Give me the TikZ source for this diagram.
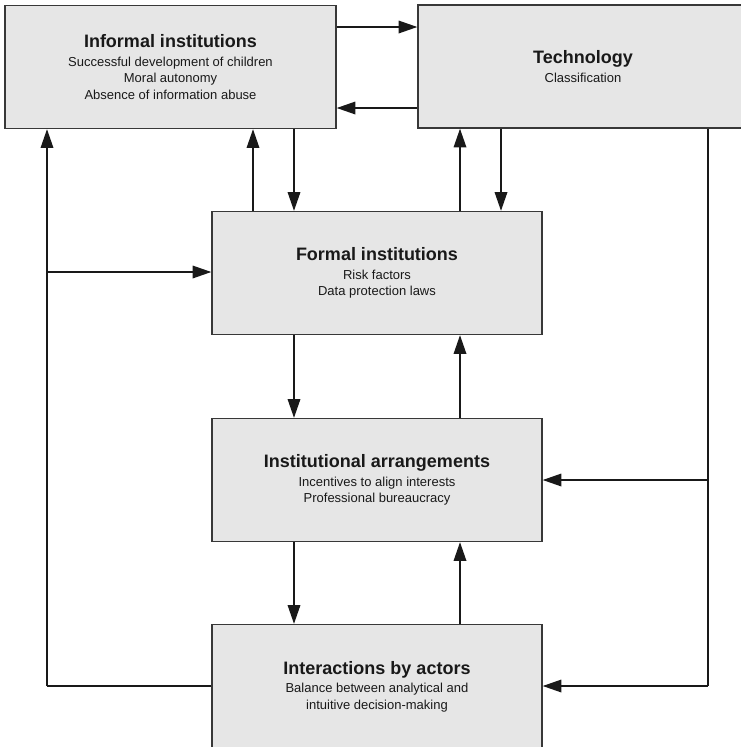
\documentclass[tikz,border=0pt]{standalone}
\usepackage{fontspec}
\setmainfont{Liberation Sans}
\usetikzlibrary{arrows.meta}
\newcommand{\headfont}{\fontsize{13.5pt}{15pt}\selectfont\bfseries}
\newcommand{\itemfont}{\fontsize{9.75pt}{12.4pt}\selectfont}
\definecolor{boxfill}{HTML}{E6E6E6}
\definecolor{boxline}{HTML}{383838}
\tikzset{
  block/.style={draw=boxline, line width=1.1pt, fill=boxfill, rectangle,
    minimum width=330\unitpx, minimum height=123\unitpx, inner sep=0pt,
    align=center, font=\itemfont, text=black!90},
  link/.style={draw=black!90, line width=0.9pt,
    -{Triangle[length=14pt,width=9.5pt]}},
  wire/.style={draw=black!90, line width=0.9pt},
}
\newlength{\unitpx}
\setlength{\unitpx}{0.75pt}
\begin{document}
\begin{tikzpicture}[x=0.75pt, y=-0.75pt]
\useasboundingbox (0,0) rectangle (741,747);

% boxes
\node[block, minimum width=331\unitpx] (inf) at (170.5,67)
  {{\headfont Informal institutions}\\[1.5pt]Successful development of children\\Moral autonomy\\Absence of information abuse};
\node[block] (tech) at (583,66.5)
  {{\headfont Technology}\\[1.5pt]Classification};
\node[block] (form) at (377,273)
  {{\headfont Formal institutions}\\[1.5pt]Risk factors\\Data protection laws};
\node[block] (arr) at (377,480)
  {{\headfont Institutional arrangements}\\[1.5pt]Incentives to align interests\\Professional bureaucracy};
\node[block, minimum height=124\unitpx] (act) at (377,686.5)
  {{\headfont Interactions by actors}\\[1.5pt]Balance between analytical and\\intuitive decision-making};

% columns and rows used by the connectors
\coordinate (cL) at (47,0);
\coordinate (cA) at (253,0);
\coordinate (cB) at (294,0);
\coordinate (cC) at (460,0);
\coordinate (cD) at (501,0);
\coordinate (cR) at (708,0);
\coordinate (rTop) at (0,27);
\coordinate (rLow) at (0,108);
\coordinate (rForm) at (0,272);
\coordinate (rArr) at (0,480);
\coordinate (rAct) at (0,686);

% informal <-> technology
\draw[link] (inf.east |- rTop) -- (tech.west |- rTop);
\draw[link] (tech.west |- rLow) -- (inf.east |- rLow);

% informal / technology <-> formal
\draw[link] (form.north -| cA) -- (inf.south -| cA);
\draw[link] (inf.south -| cB) -- (form.north -| cB);
\draw[link] (form.north -| cC) -- (tech.south -| cC);
\draw[link] (tech.south -| cD) -- (form.north -| cD);

% formal <-> arrangements <-> actors
\draw[link] (form.south -| cB) -- (arr.north -| cB);
\draw[link] (arr.north -| cC) -- (form.south -| cC);
\draw[link] (arr.south -| cB) -- (act.north -| cB);
\draw[link] (act.north -| cC) -- (arr.south -| cC);

% feedback from actors on the left
\coordinate (lBot) at (cL |- rAct);
\coordinate (lMid) at (cL |- rForm);
\draw[wire] (act.west |- rAct) -- (lBot);
\draw[link] (lBot) -- (inf.south -| cL);
\draw[link] (lMid) -- (form.west |- rForm);

% influence of technology on the right
\coordinate (rBot) at (cR |- rAct);
\coordinate (rMid) at (cR |- rArr);
\draw[wire] (tech.south -| cR) -- (rBot);
\draw[link] (rBot) -- (act.east |- rAct);
\draw[link] (rMid) -- (arr.east |- rArr);
\end{tikzpicture}
\end{document}
